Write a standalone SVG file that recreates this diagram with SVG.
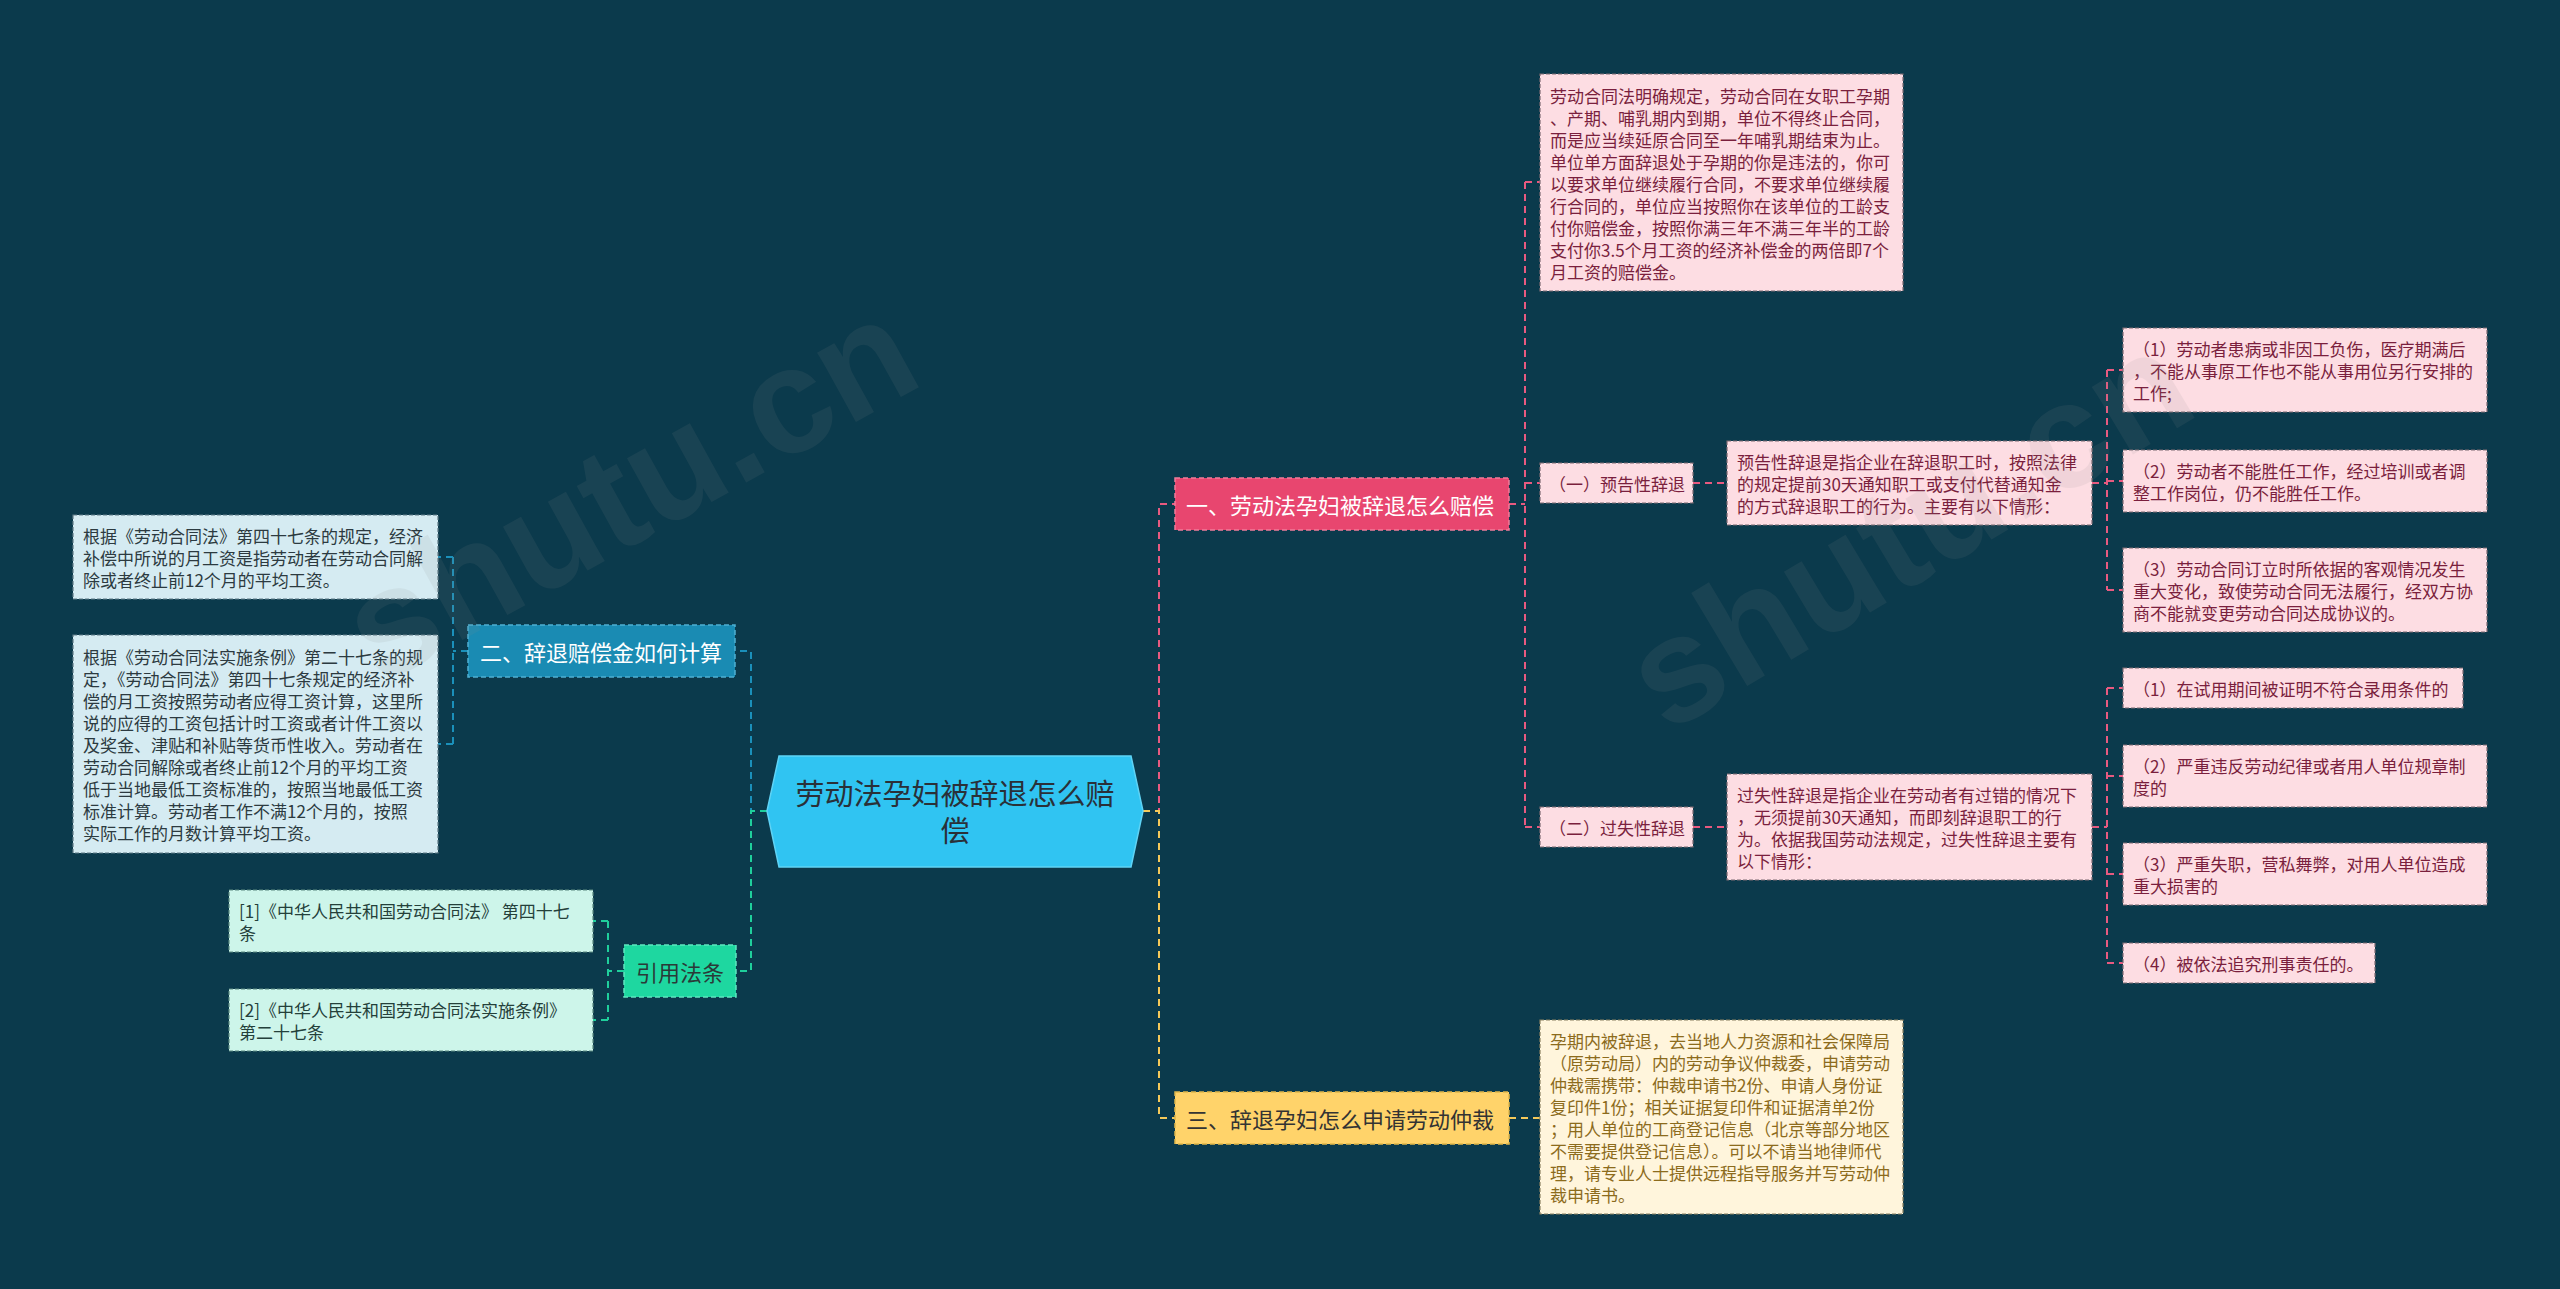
<svg xmlns="http://www.w3.org/2000/svg" width="2560" height="1289" viewBox="0 0 2560 1289">
<style>
text{font-family:"Noto Sans CJK SC","Noto Sans",sans-serif;dominant-baseline:central}
.c{fill:none;stroke-width:2;stroke-dasharray:7 5}
.pk{stroke:#e85a80}.bl{stroke:#1b90ba}.gr{stroke:#1fcf9c}.yw{stroke:#f5c95a}
.lp{fill:#fddde3;stroke:#7d6a72;stroke-width:1.2;stroke-dasharray:4 2}
.lb{fill:#d5ebf2;stroke:#5f7a85;stroke-width:1.2;stroke-dasharray:4 2}
.lg{fill:#cdf5ea;stroke:#5c8a80;stroke-width:1.2;stroke-dasharray:4 2}
.ly{fill:#fff5dc;stroke:#8a8060;stroke-width:1.2;stroke-dasharray:4 2}
.tp{fill:#7a1f3d;font-size:17px}
.tb{fill:#2c3a40;font-size:17px}
.tg{fill:#24403a;font-size:17px}
.ty{fill:#8c6b1c;font-size:17px}
.bt{font-size:22px}
.wm{fill:#8c8c8c;opacity:0.11;font-size:150px;font-family:"Liberation Sans",sans-serif;font-weight:bold}
</style>
<rect width="2560" height="1289" fill="#0b3a4c"/>

<g id="connectors">
<path class="c pk" d="M1143,811 H1159 V504 H1175"/>
<path class="c pk" d="M1509,504 H1525 M1525,182 V827 M1525,182 H1540 M1525,483 H1540 M1525,827 H1540"/>
<path class="c pk" d="M1693,483 H1727 M2092,483 H2107 M2107,370 V590 M2107,370 H2123 M2107,481 H2123 M2107,590 H2123"/>
<path class="c pk" d="M1693,827 H1727 M2092,827 H2107 M2107,688 V963 M2107,688 H2123 M2107,776 H2123 M2107,874 H2123 M2107,963 H2123"/>
<path class="c bl" d="M767,811 H751 V651 H735"/>
<path class="c bl" d="M468,651 H453 M453,557 V744 M453,557 H438 M453,744 H438"/>
<path class="c gr" d="M767,811 H751 V971 H736"/>
<path class="c gr" d="M624,971 H608 M608,921 V1020 M608,921 H593 M608,1020 H593"/>
<path class="c yw" d="M1143,811 H1159 V1118 H1175"/>
<path class="c yw" d="M1509,1118 H1540"/>
</g>

<g id="root">
<polygon points="767,811 779,756 1131,756 1143,811 1131,867 779,867" fill="#30c4f2" stroke="#5fd3f5" stroke-width="1.5"/>
<text x="955" y="792" text-anchor="middle" font-size="29" fill="#2a3038">劳动法孕妇被辞退怎么赔</text>
<text x="955" y="829" text-anchor="middle" font-size="29" fill="#2a3038">偿</text>
</g>

<g id="branch1">
<rect x="1175" y="478" width="334" height="52" fill="#e8466f" stroke="#f07c9a" stroke-width="1.5" stroke-dasharray="5 3"/>
<text class="bt" x="1186" y="504" fill="#ffffff">一、劳动法孕妇被辞退怎么赔偿</text>
</g>
<g id="branch2">
<rect x="468" y="625" width="267" height="52" fill="#1a8bb3" stroke="#4fb0d2" stroke-width="1.5" stroke-dasharray="5 3"/>
<text class="bt" x="480" y="651" fill="#ffffff">二、辞退赔偿金如何计算</text>
</g>
<g id="branch3">
<rect x="1175" y="1092" width="334" height="52" fill="#ffd36a" stroke="#e0b64a" stroke-width="1.5" stroke-dasharray="5 3"/>
<text class="bt" x="1186" y="1118" fill="#333333">三、辞退孕妇怎么申请劳动仲裁</text>
</g>
<g id="branch4">
<rect x="624" y="945" width="112" height="52" fill="#1ed7a0" stroke="#5fe6be" stroke-width="1.5" stroke-dasharray="5 3"/>
<text class="bt" x="636" y="971" fill="#2a3a38">引用法条</text>
</g>

<g id="r1">
<rect class="lp" x="1540" y="74" width="363" height="217"/>
<text class="tp" x="1550" y="95">劳动合同法明确规定，劳动合同在女职工孕期</text>
<text class="tp" x="1550" y="117">、产期、哺乳期内到期，单位不得终止合同，</text>
<text class="tp" x="1550" y="139">而是应当续延原合同至一年哺乳期结束为止。</text>
<text class="tp" x="1550" y="161">单位单方面辞退处于孕期的你是违法的，你可</text>
<text class="tp" x="1550" y="183">以要求单位继续履行合同，不要求单位继续履</text>
<text class="tp" x="1550" y="205">行合同的，单位应当按照你在该单位的工龄支</text>
<text class="tp" x="1550" y="227">付你赔偿金，按照你满三年不满三年半的工龄</text>
<text class="tp" x="1550" y="249">支付你3.5个月工资的经济补偿金的两倍即7个</text>
<text class="tp" x="1550" y="271">月工资的赔偿金。</text>
</g>

<g id="n-yugao">
<rect class="lp" x="1540" y="463" width="153" height="40"/>
<text class="tp" x="1549" y="483">（一）预告性辞退</text>
</g>
<g id="n-yugao-text">
<rect class="lp" x="1727" y="441" width="365" height="84"/>
<text class="tp" x="1737" y="461">预告性辞退是指企业在辞退职工时，按照法律</text>
<text class="tp" x="1737" y="483">的规定提前30天通知职工或支付代替通知金</text>
<text class="tp" x="1737" y="505">的方式辞退职工的行为。主要有以下情形：</text>
</g>
<g id="a1">
<rect class="lp" x="2123" y="328" width="364" height="84"/>
<text class="tp" x="2133" y="348">（1）劳动者患病或非因工负伤，医疗期满后</text>
<text class="tp" x="2133" y="370">，不能从事原工作也不能从事用位另行安排的</text>
<text class="tp" x="2133" y="392">工作;</text>
</g>
<g id="a2">
<rect class="lp" x="2123" y="450" width="364" height="62"/>
<text class="tp" x="2133" y="470">（2）劳动者不能胜任工作，经过培训或者调</text>
<text class="tp" x="2133" y="492">整工作岗位，仍不能胜任工作。</text>
</g>
<g id="a3">
<rect class="lp" x="2123" y="548" width="364" height="84"/>
<text class="tp" x="2133" y="568">（3）劳动合同订立时所依据的客观情况发生</text>
<text class="tp" x="2133" y="590">重大变化，致使劳动合同无法履行，经双方协</text>
<text class="tp" x="2133" y="612">商不能就变更劳动合同达成协议的。</text>
</g>

<g id="n-guoshi">
<rect class="lp" x="1540" y="807" width="153" height="40"/>
<text class="tp" x="1549" y="827">（二）过失性辞退</text>
</g>
<g id="n-guoshi-text">
<rect class="lp" x="1727" y="774" width="365" height="106"/>
<text class="tp" x="1737" y="794">过失性辞退是指企业在劳动者有过错的情况下</text>
<text class="tp" x="1737" y="816">，无须提前30天通知，而即刻辞退职工的行</text>
<text class="tp" x="1737" y="838">为。依据我国劳动法规定，过失性辞退主要有</text>
<text class="tp" x="1737" y="860">以下情形：</text>
</g>
<g id="b1">
<rect class="lp" x="2123" y="668" width="340" height="40"/>
<text class="tp" x="2133" y="688">（1）在试用期间被证明不符合录用条件的</text>
</g>
<g id="b2">
<rect class="lp" x="2123" y="745" width="364" height="62"/>
<text class="tp" x="2133" y="765">（2）严重违反劳动纪律或者用人单位规章制</text>
<text class="tp" x="2133" y="787">度的</text>
</g>
<g id="b3">
<rect class="lp" x="2123" y="843" width="364" height="62"/>
<text class="tp" x="2133" y="863">（3）严重失职，营私舞弊，对用人单位造成</text>
<text class="tp" x="2133" y="885">重大损害的</text>
</g>
<g id="b4">
<rect class="lp" x="2123" y="943" width="252" height="40"/>
<text class="tp" x="2133" y="963">（4）被依法追究刑事责任的。</text>
</g>

<g id="c1">
<rect class="ly" x="1540" y="1020" width="363" height="194"/>
<text class="ty" x="1550" y="1040">孕期内被辞退，去当地人力资源和社会保障局</text>
<text class="ty" x="1550" y="1062">（原劳动局）内的劳动争议仲裁委，申请劳动</text>
<text class="ty" x="1550" y="1084">仲裁需携带：仲裁申请书2份、申请人身份证</text>
<text class="ty" x="1550" y="1106">复印件1份；相关证据复印件和证据清单2份</text>
<text class="ty" x="1550" y="1128">；用人单位的工商登记信息（北京等部分地区</text>
<text class="ty" x="1550" y="1150">不需要提供登记信息）。可以不请当地律师代</text>
<text class="ty" x="1550" y="1172">理，请专业人士提供远程指导服务并写劳动仲</text>
<text class="ty" x="1550" y="1194">裁申请书。</text>
</g>

<g id="l1">
<rect class="lb" x="73" y="515" width="365" height="84"/>
<text class="tb" x="83" y="535">根据《劳动合同法》第四十七条的规定，经济</text>
<text class="tb" x="83" y="557">补偿中所说的月工资是指劳动者在劳动合同解</text>
<text class="tb" x="83" y="579">除或者终止前12个月的平均工资。</text>
</g>
<g id="l2">
<rect class="lb" x="73" y="635" width="365" height="218"/>
<text class="tb" x="83" y="656">根据《劳动合同法实施条例》第二十七条的规</text>
<text class="tb" x="83" y="678">定，《劳动合同法》第四十七条规定的经济补</text>
<text class="tb" x="83" y="700">偿的月工资按照劳动者应得工资计算，这里所</text>
<text class="tb" x="83" y="722">说的应得的工资包括计时工资或者计件工资以</text>
<text class="tb" x="83" y="744">及奖金、津贴和补贴等货币性收入。劳动者在</text>
<text class="tb" x="83" y="766">劳动合同解除或者终止前12个月的平均工资</text>
<text class="tb" x="83" y="788">低于当地最低工资标准的，按照当地最低工资</text>
<text class="tb" x="83" y="810">标准计算。劳动者工作不满12个月的，按照</text>
<text class="tb" x="83" y="832">实际工作的月数计算平均工资。</text>
</g>

<g id="ref1">
<rect class="lg" x="229" y="890" width="364" height="62"/>
<text class="tg" x="239" y="910">[1]《中华人民共和国劳动合同法》 第四十七</text>
<text class="tg" x="239" y="932">条</text>
</g>
<g id="ref2">
<rect class="lg" x="229" y="989" width="364" height="62"/>
<text class="tg" x="239" y="1009">[2]《中华人民共和国劳动合同法实施条例》</text>
<text class="tg" x="239" y="1031">第二十七条</text>
</g>

<g id="watermark">
<text class="wm" x="0" y="0" transform="translate(355,640) rotate(-29)">shutu.cn</text>
<text class="wm" x="0" y="0" transform="translate(1640,690) rotate(-31)">shutu.cn</text>
</g>
</svg>
